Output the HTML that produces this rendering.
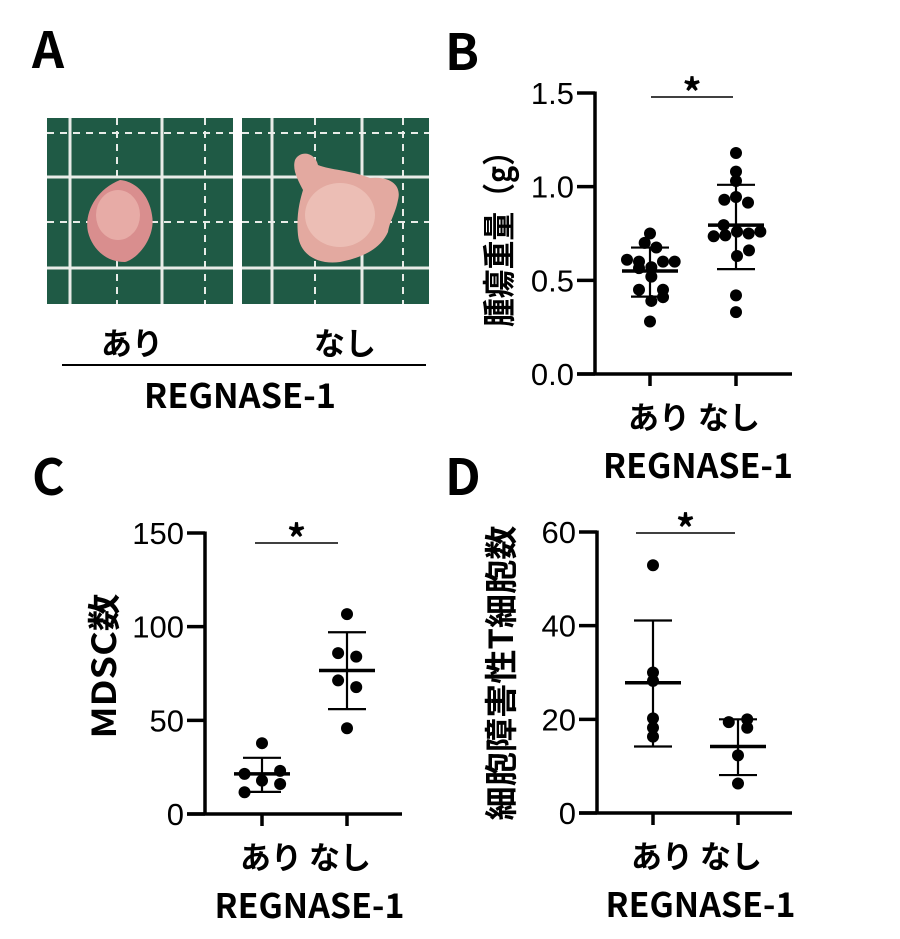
<!DOCTYPE html>
<html><head><meta charset="utf-8">
<style>
html,body{margin:0;padding:0;background:#fff;}
svg{display:block;}
.lbl{font-family:"Noto Sans CJK JP","Liberation Sans",sans-serif;font-weight:bold;fill:#000;}
.let{font-family:"Noto Sans CJK JP","Liberation Sans",sans-serif;font-weight:bold;fill:#000;}
.tick{font-family:"Liberation Sans",sans-serif;font-size:31px;fill:#000;}
</style></head>
<body>
<svg id="fig" width="900" height="939" viewBox="0 0 900 939" xmlns="http://www.w3.org/2000/svg">
  <text class="let" x="32" y="68" font-size="50">A</text>
  <text class="let" x="445" y="70" font-size="50">B</text>
  <text class="let" x="32" y="495" font-size="50">C</text>
  <text class="let" x="445" y="495" font-size="50">D</text>

  <g>
    <rect x="47" y="118" width="186" height="186" fill="#1f5a45"/>
    <g stroke="#e8ece8" stroke-width="3">
      <line x1="70" y1="118" x2="70" y2="304"/><line x1="162" y1="118" x2="162" y2="304"/>
      <line x1="47" y1="177" x2="233" y2="177"/><line x1="47" y1="268" x2="233" y2="268"/>
    </g>
    <g stroke="#e8ece8" stroke-width="2" stroke-dasharray="7,6">
      <line x1="117" y1="118" x2="117" y2="304"/><line x1="205" y1="118" x2="205" y2="304"/>
      <line x1="47" y1="133" x2="233" y2="133"/><line x1="47" y1="222" x2="233" y2="222"/>
    </g>
    <path d="M120 180 C140 182 150 200 152 215 C156 235 140 258 125 262 C105 262 92 248 88 232 C84 214 95 190 120 180 Z" fill="#d98e8e"/>
    <ellipse cx="118" cy="215" rx="22" ry="25" fill="#eab3ad" opacity="0.8"/>
  </g>
  <g>
    <rect x="242" y="118" width="187" height="186" fill="#1f5a45"/>
    <g stroke="#e8ece8" stroke-width="3">
      <line x1="272" y1="118" x2="272" y2="304"/><line x1="362" y1="118" x2="362" y2="304"/>
      <line x1="242" y1="177" x2="429" y2="177"/><line x1="242" y1="268" x2="429" y2="268"/>
    </g>
    <g stroke="#e8ece8" stroke-width="2" stroke-dasharray="7,6">
      <line x1="315" y1="118" x2="315" y2="304"/><line x1="403" y1="118" x2="403" y2="304"/>
      <line x1="242" y1="133" x2="429" y2="133"/><line x1="242" y1="222" x2="429" y2="222"/>
    </g>
    <path d="M295 160 C300 150 315 152 318 165 C330 170 350 170 370 178 C390 176 402 185 398 200 C395 215 390 220 388 232 C380 250 360 258 340 262 C318 265 300 255 298 235 C296 215 300 200 303 190 C298 180 292 170 295 160 Z" fill="#e3a9a0"/>
    <ellipse cx="340" cy="215" rx="35" ry="32" fill="#f0c7bd" opacity="0.7"/>
  </g>
  <text class="lbl" x="132" y="355" font-size="31" text-anchor="middle">あり</text>
  <text class="lbl" x="345" y="355" font-size="31" text-anchor="middle">なし</text>
  <line x1="62" y1="365" x2="426" y2="365" stroke="#000" stroke-width="2"/>
  <text class="lbl" x="240" y="408" font-size="34" text-anchor="middle" textLength="192" lengthAdjust="spacingAndGlyphs">REGNASE-1</text>

  <g id="plots"></g>
</svg>
<script>
// Panel B: tumor weight (g)
const bCategories = ["あり", "なし"];
const bTicks = ["0.0", "0.5", "1.0", "1.5"];
const bTickValues = [0, 0.5, 1.0, 1.5];
const bGroup1 = [0.75, 0.70, 0.675, 0.61, 0.60, 0.60, 0.60, 0.565, 0.57, 0.52, 0.45, 0.45, 0.39, 0.41, 0.28];
const bGroup1Jitter = [0, -16, 19, -69, -33, 39, 74, -33, 4, 4, -33, 39, 4, 39, 0];
const bGroup2 = [1.18, 1.08, 1.03, 0.93, 0.945, 0.915, 0.795, 0.735, 0.74, 0.76, 0.75, 0.76, 0.63, 0.66, 0.42, 0.33];
const bGroup2Jitter = [0, 0, 0, -35, 0, 36, -37, -67, -32, 3, 38, 73, 3, 39, 0, 0];
const bMeans = [0.55, 0.795];
const bSDHigh = [0.675, 1.01];
const bSDLow = [0.413, 0.56];

// Panel C: MDSC count
const cCategories = ["あり", "なし"];
const cTicks = ["0", "50", "100", "150"];
const cTickValues = [0, 50, 100, 150];
const cGroup1 = [37.8, 21.4, 17.8, 23, 16, 11.6];
const cGroup1Jitter = [0, -53, 0, 55, 55, -53];
const cGroup2 = [106.7, 85.9, 84, 71.3, 67.7, 45.8];
const cGroup2Jitter = [0, -27, 28, -27, 28, 0];
const cMeans = [21.4, 76.6];
const cSDHigh = [30, 97];
const cSDLow = [11.8, 56];

// Panel D: cytotoxic T cell count
const dCategories = ["あり", "なし"];
const dTicks = ["0", "20", "40", "60"];
const dTickValues = [0, 20, 40, 60];
const dGroup1 = [52.9, 30, 28.2, 20.2, 18.2, 16.3];
const dGroup1Jitter = [0, 0, 0, 0, 0, 0];
const dGroup2 = [19.4, 20, 18.2, 12.3, 6.3];
const dGroup2Jitter = [-28, 28, 28, 0, 0];
const dMeans = [27.8, 14.2];
const dSDHigh = [41.1, 20];
const dSDLow = [14.2, 8.1];

const NS = "http://www.w3.org/2000/svg";
const root = document.getElementById("plots");
function mk(tag, attrs, parent) {
  const e = document.createElementNS(NS, tag);
  for (const k in attrs) e.setAttribute(k, attrs[k]);
  (parent || root).appendChild(e);
  return e;
}

function drawPanel(cfg) {
  const g = mk("g", {});
  
  
  const y = v => cfg.y0 - (v - cfg.min) / (cfg.max - cfg.min) * (cfg.y0 - cfg.y1);
  const xs = cfg.xs;
  const scale = (cfg.xs[1] - cfg.xs[0]) / 86;
  const ya = mk("line", {x1: cfg.ax, y1: y(cfg.max) - 1.5, x2: cfg.ax, y2: cfg.y0 + 1.5, stroke: "#000", "stroke-width": 3.5}, g);
  
  
  const xa = mk("line", {x1: cfg.ax - 18, y1: cfg.y0, x2: cfg.axEnd, y2: cfg.y0, stroke: "#000", "stroke-width": 3.5}, g);
  
  
  cfg.tickValues.forEach((v, i) => {
    mk("line", {x1: cfg.ax - 18, y1: y(v), x2: cfg.ax, y2: y(v), stroke: "#000", "stroke-width": 3.5}, g);
    const t = mk("text", {x: cfg.ax - 21, y: y(v) + 11, "text-anchor": "end", class: "tick"}, g);
    t.textContent = cfg.ticks[i];
    
    
  });
  xs.forEach((x, i) => {
    mk("line", {x1: x, y1: cfg.y0, x2: x, y2: cfg.y0 + 12, stroke: "#000", "stroke-width": 3.5}, g);
    const t = mk("text", {x: x + (i === 0 ? 9 : -7), y: cfg.y0 + 55, "text-anchor": "middle", class: "lbl", "font-size": 31}, g);
    t.textContent = cfg.categories[i];
    
    
  });
  const rl = mk("text", {x: (xs[0] + xs[1]) / 2 + 5, y: cfg.y0 + 104, "text-anchor": "middle", class: "lbl", "font-size": 34, textLength: 190, lengthAdjust: "spacingAndGlyphs"}, g);
  rl.textContent = "REGNASE-1";
  
  
  const yt = mk("text", {x: 0, y: 0, "text-anchor": "middle", class: "lbl", "font-size": 33, transform: `translate(${cfg.titleX},${cfg.titleY}) rotate(-90)`}, g);
  if (cfg.titleLen) { yt.setAttribute("textLength", cfg.titleLen); yt.setAttribute("lengthAdjust", "spacingAndGlyphs"); }
  yt.textContent = cfg.title;
  
  
  const sb = mk("line", {x1: cfg.sig[0], y1: cfg.sigY, x2: cfg.sig[1], y2: cfg.sigY, stroke: "#000", "stroke-width": 1.5}, g);
  
  
  const st = mk("text", {x: (cfg.sig[0] + cfg.sig[1]) / 2, y: cfg.sigY + 10, "text-anchor": "middle", class: "lbl", "font-size": 38}, g);
  st.textContent = "*";
  
  
  [[cfg.g1, cfg.j1], [cfg.g2, cfg.j2]].forEach(([vals, jit], gi) => {
    const x = xs[gi];
    vals.forEach((v, i) => {
      const c = mk("circle", {cx: x + jit[i] / 3 * scale, cy: y(v), r: 6, fill: "#000"}, g);
      
      
    });
    const e = mk("line", {x1: x, y1: y(cfg.hi[gi]), x2: x, y2: y(cfg.lo[gi]), stroke: "#000", "stroke-width": 2.2}, g);
    
    
    mk("line", {x1: x - 19, y1: y(cfg.hi[gi]), x2: x + 19, y2: y(cfg.hi[gi]), stroke: "#000", "stroke-width": 2.2}, g);
    mk("line", {x1: x - 19, y1: y(cfg.lo[gi]), x2: x + 19, y2: y(cfg.lo[gi]), stroke: "#000", "stroke-width": 2.2}, g);
    const m = mk("line", {x1: x - 28, y1: y(cfg.means[gi]), x2: x + 28, y2: y(cfg.means[gi]), stroke: "#000", "stroke-width": 3.5}, g);
    
    
  });
}

drawPanel({key: "tumor-weight", min: 0, max: 1.5, y0: 374, y1: 93, ax: 595, axEnd: 792, xs: [650, 736],
  ticks: bTicks, tickValues: bTickValues, categories: bCategories,
  g1: bGroup1, j1: bGroup1Jitter, g2: bGroup2, j2: bGroup2Jitter,
  means: bMeans, hi: bSDHigh, lo: bSDLow, sig: [651, 733], sigY: 97,
  title: "腫瘍重量（g）", titleX: 511, titleY: 232, titleLen: 190});
drawPanel({key: "mdsc", min: 0, max: 150, y0: 814, y1: 533, ax: 205, axEnd: 402, xs: [262, 347],
  ticks: cTicks, tickValues: cTickValues, categories: cCategories,
  g1: cGroup1, j1: cGroup1Jitter, g2: cGroup2, j2: cGroup2Jitter,
  means: cMeans, hi: cSDHigh, lo: cSDLow, sig: [255, 338], sigY: 543,
  title: "MDSC数", titleX: 116, titleY: 666, titleLen: 145});
drawPanel({key: "cytotoxic-t", min: 0, max: 60, y0: 813, y1: 532, ax: 597, axEnd: 792, xs: [653, 738],
  ticks: dTicks, tickValues: dTickValues, categories: dCategories,
  g1: dGroup1, j1: dGroup1Jitter, g2: dGroup2, j2: dGroup2Jitter,
  means: dMeans, hi: dSDHigh, lo: dSDLow, sig: [636, 735], sigY: 533,
  title: "細胞障害性T細胞数", titleX: 513, titleY: 673, titleLen: 295});
</script>
</body></html>
